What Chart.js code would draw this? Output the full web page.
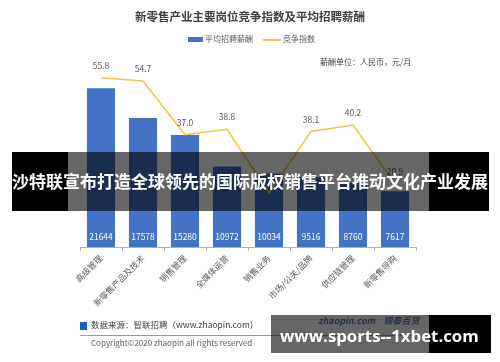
<!DOCTYPE html>
<html>
<head>
<meta charset="utf-8">
<script src="https://cdn.jsdelivr.net/npm/chart.js@4.4.1/dist/chart.umd.min.js"></script>
<style>
  html, body { margin:0; padding:0; background:#fff; }
  #wrap { position:relative; width:500px; height:362px; overflow:hidden; font-family:"Noto Sans CJK SC", "Noto Sans", sans-serif; }
  #chart { position:absolute; left:0; top:0; }
  .abs { position:absolute; white-space:nowrap; }
  .title { left:0; width:500px; top:8px; text-align:center; font-size:11.5px; font-weight:bold; color:#404040; }
  .legend { top:33px; left:188px; font-size:8px; color:#595959; }
  .legend .box { display:inline-block; width:15px; height:5px; background:#4472c4; vertical-align:middle; margin-right:2px; }
  .legend .ln { display:inline-block; width:18px; height:1.5px; background:#f5c242; vertical-align:middle; margin:0 2px 0 10px; }
  .unit { top:56px; left:320px; font-size:8px; color:#404040; }
  .src { top:318px; left:80px; font-size:8.5px; color:#404040; }
  .src .sq { display:inline-block; width:7px; height:8px; background:#1f5fb4; vertical-align:middle; margin-right:4px; }
  .rule { top:335px; left:80px; width:340px; height:1px; background:#999; }
  .copy { top:337px; left:91px; font-size:8px; color:#595959; }
  .band-black { background:#000; }
  .band-gray { background:rgba(0,0,0,0.6); }
  .banner-text { top:169px; left:12px; font-size:17px; line-height:24px; font-weight:bold; color:#fff; }
  .wm-text { top:324px; left:280px; font-size:16.8px; line-height:24px; font-weight:bold; color:#fff; font-family:"Open Sans", "DejaVu Sans", sans-serif; }
  .logo { top:314px; left:318px; font-size:9px; font-weight:bold; color:#2d55a5; font-style:italic; opacity:0.8; }
</style>
</head>
<body>
<div id="wrap">
  <canvas id="chart" width="500" height="362"></canvas>
  <div class="abs title">新零售产业主要岗位竞争指数及平均招聘薪酬</div>
  <div class="abs legend"><span class="box"></span>平均招聘薪酬<span class="ln"></span>竞争指数</div>
  <div class="abs unit">薪酬单位：人民币，元/月</div>
  <div class="abs src"><span class="sq"></span>数据来源：智联招聘（www.zhaopin.com）</div>
  <div class="abs rule"></div>
  <div class="abs copy">Copyright©2020 zhaopin all rights reserved</div>

  <!-- overlay banner -->
  <div class="abs band-black" style="left:12px;top:152px;width:56px;height:59px"></div>
  <div class="abs band-gray" style="left:68px;top:152px;width:361px;height:59px"></div>
  <div class="abs band-black" style="left:429px;top:152px;width:60px;height:59px"></div>
  <div class="abs banner-text">沙特联宣布打造全球领先的国际版权销售平台推动文化产业发展</div>

  <!-- watermark -->
  <div class="abs logo">zhaopin.com &nbsp;&nbsp; 银泰百货</div>
  <div class="abs band-gray" style="left:271px;top:315px;width:158px;height:38px"></div>
  <div class="abs band-black" style="left:429px;top:315px;width:62px;height:38px"></div>
  <div class="abs wm-text">www.sports--1xbet.com</div>
</div>

<script>
// ── Data ───────────────────────────────────────────
const CATEGORIES = ["高级管理", "新零售产品及技术", "销售管理", "全媒体运营", "销售业务", "市场/公关/品牌", "供应链管理", "新零售导购"];
const SALARY = [21644, 17578, 15280, 10972, 10034, 9516, 8760, 7617];
const COMPETITION = [55.8, 54.7, 37.0, 38.8, 17.8, 38.1, 40.2, 20.9];

const FONT = "'Noto Sans CJK SC', 'Noto Sans', sans-serif";

// ── Value labels ───────────────────────────────────
const valueLabels = {
  id: "valueLabels",
  afterDatasetsDraw(chart) {
    const ctx = chart.ctx;
    const base = chart.scales.y.getPixelForValue(0);
    ctx.save();
    ctx.font = "8.5px " + FONT;
    ctx.textAlign = "center";
    ctx.textBaseline = "middle";

    ctx.fillStyle = "#ffffff";
    chart.getDatasetMeta(0).data.forEach((bar, i) => {
      ctx.fillText(SALARY[i], bar.x, base - 10);
    });

    ctx.fillStyle = "#595959";
    chart.getDatasetMeta(1).data.forEach((pt, i) => {
      ctx.fillText(COMPETITION[i].toFixed(1), pt.x, pt.y - 12);
    });
    ctx.restore();
  }
};

new Chart(document.getElementById("chart"), {
  type: "bar",
  data: {
    labels: CATEGORIES,
    datasets: [
      {
        label: "平均招聘薪酬",
        data: SALARY,
        backgroundColor: "#4472c4",
        barPercentage: 0.67,
        categoryPercentage: 1.0,
        yAxisID: "y",
        order: 2,
      },
      {
        label: "竞争指数",
        type: "line",
        data: COMPETITION,
        borderColor: "#f5c242",
        borderWidth: 1.6,
        pointRadius: 0,
        tension: 0,
        fill: false,
        yAxisID: "y1",
        order: 1,
      },
    ],
  },
  options: {
    responsive: false,
    animation: false,
    layout: { padding: { left: 80, right: 84, top: 71, bottom: 0 } },
    plugins: { legend: { display: false }, tooltip: { enabled: false } },
    scales: {
      x: {
        offset: true,
        afterFit: s => { s.height = 115; },
        grid: { drawOnChartArea: false, offset: true, tickLength: 4, color: "#b0b0b0" },
        border: { color: "#b0b0b0" },
        ticks: { color: "#595959", font: { size: 8.5, family: FONT }, minRotation: 45, maxRotation: 45, padding: 2 },
      },
      y: { display: false, min: 0, max: 24000 },
      y1: { display: false, min: 0, max: 58 },
    },
  },
  plugins: [valueLabels],
});
</script>
</body>
</html>
